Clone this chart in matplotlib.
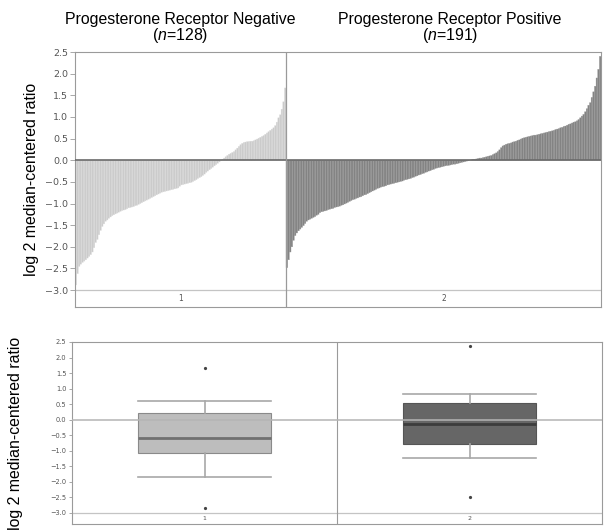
import numpy as np
import matplotlib.pyplot as plt

# sorted per-sample values
pr_negative = [
    -2.88, -2.62, -2.45, -2.40, -2.36, -2.33, -2.30, -2.26, -2.22, -2.18,
    -2.12, -2.02, -1.90, -1.83, -1.72, -1.62, -1.53, -1.47, -1.41, -1.38,
    -1.34, -1.31, -1.28, -1.26, -1.24, -1.22, -1.20, -1.18, -1.16, -1.15,
    -1.14, -1.12, -1.10, -1.09, -1.08, -1.07, -1.05, -1.04, -1.02, -1.00,
    -0.98, -0.96, -0.94, -0.92, -0.90, -0.88, -0.86, -0.84, -0.82, -0.80,
    -0.78, -0.76, -0.74, -0.73, -0.72, -0.71, -0.70, -0.69, -0.68, -0.67,
    -0.66, -0.65, -0.64, -0.60, -0.57, -0.56, -0.55, -0.54, -0.53, -0.52,
    -0.51, -0.49, -0.47, -0.45, -0.42, -0.40, -0.38, -0.35, -0.32, -0.28,
    -0.25, -0.22, -0.19, -0.16, -0.13, -0.10, -0.07, -0.04, -0.01, 0.02,
    0.05, 0.08, 0.11, 0.14, 0.16, 0.18, 0.20, 0.24, 0.28, 0.32,
    0.36, 0.39, 0.41, 0.42, 0.43, 0.43, 0.44, 0.44, 0.45, 0.47,
    0.49, 0.51, 0.53, 0.55, 0.57, 0.60, 0.63, 0.66, 0.69, 0.72,
    0.75, 0.80, 0.88, 0.98, 1.05, 1.18, 1.35, 1.67,
]
pr_positive = [
    -2.48, -2.30, -2.12, -2.00, -1.85, -1.74, -1.68, -1.63, -1.59, -1.55,
    -1.51, -1.46, -1.41, -1.38, -1.36, -1.34, -1.32, -1.30, -1.27, -1.25,
    -1.21, -1.19, -1.18, -1.17, -1.16, -1.14, -1.13, -1.12, -1.11, -1.09,
    -1.08, -1.07, -1.06, -1.04, -1.03, -1.01, -0.99, -0.97, -0.95, -0.93,
    -0.91, -0.90, -0.88, -0.87, -0.85, -0.84, -0.82, -0.80, -0.79, -0.77,
    -0.75, -0.73, -0.71, -0.69, -0.67, -0.65, -0.64, -0.62, -0.61, -0.60,
    -0.59, -0.57, -0.56, -0.55, -0.54, -0.53, -0.52, -0.51, -0.50, -0.49,
    -0.48, -0.46, -0.45, -0.44, -0.43, -0.42, -0.40, -0.39, -0.37, -0.36,
    -0.34, -0.33, -0.31, -0.30, -0.28, -0.27, -0.25, -0.24, -0.22, -0.21,
    -0.19, -0.18, -0.17, -0.16, -0.15, -0.14, -0.13, -0.12, -0.12, -0.11,
    -0.10, -0.09, -0.09, -0.08, -0.07, -0.06, -0.05, -0.04, -0.03, -0.02,
    -0.01, 0.00, 0.01, 0.02, 0.02, 0.03, 0.04, 0.05, 0.05, 0.06,
    0.07, 0.08, 0.09, 0.10, 0.11, 0.13, 0.15, 0.17, 0.20, 0.24,
    0.29, 0.33, 0.35, 0.37, 0.38, 0.39, 0.40, 0.42, 0.43, 0.44,
    0.46, 0.47, 0.49, 0.51, 0.52, 0.53, 0.54, 0.55, 0.56, 0.57,
    0.58, 0.58, 0.59, 0.60, 0.61, 0.62, 0.63, 0.64, 0.65, 0.66,
    0.67, 0.68, 0.69, 0.71, 0.72, 0.73, 0.75, 0.76, 0.78, 0.79,
    0.81, 0.83, 0.84, 0.86, 0.88, 0.89, 0.91, 0.94, 0.98, 1.02,
    1.06, 1.12, 1.19, 1.27, 1.33, 1.45, 1.58, 1.71, 1.90, 2.10,
    2.40,
]

categories = ["1", "2"]
group_titles = ["Progesterone Receptor Negative", "Progesterone Receptor Positive"]
group_n = [128, 191]

# box plot summary (10th/90th whiskers, min/max dots)
box_med = [-0.58, -0.14]
box_q1 = [-1.09, -0.80]
box_q3 = [0.20, 0.54]
box_whislo = [-1.84, -1.25]
box_whishi = [0.60, 0.84]
box_fliers = [[-2.86, 1.67], [-2.48, 2.37]]

y_ticks = [2.5, 2.0, 1.5, 1.0, 0.5, 0.0, -0.5, -1.0, -1.5, -2.0, -2.5, -3.0]

bar_colors = ["#cbcbcb", "#838383"]
bar_edges = ["#dcdcdc", "#9a9a9a"]
box_faces = ["#bdbdbd", "#666666"]
box_medians = ["#707070", "#3c3c3c"]
frame_col = "#9a9a9a"

plt.rcParams["font.family"] = ["Liberation Sans", "DejaVu Sans"]
plt.rcParams["mathtext.fontset"] = "custom"
plt.rcParams["mathtext.it"] = "Liberation Sans:italic"
plt.rcParams["mathtext.rm"] = "Liberation Sans"

fig = plt.figure(figsize=(6.04, 5.30), dpi=100)
ax_top = fig.add_axes([75 / 604, 1 - 307 / 530, 526 / 604, 255 / 530])
ax_box = fig.add_axes([72 / 604, 1 - 524 / 530, 530 / 604, 182 / 530])


def style_axes(ax, tick_size, tick_len):
    for sp in ax.spines.values():
        sp.set_color(frame_col)
        sp.set_linewidth(0.8)
    ax.set_yticks(y_ticks)
    ax.set_yticklabels([f"{t:.1f}".replace("-", "\u2212") for t in y_ticks],
                       family="DejaVu Sans", fontsize=tick_size, color="#555555")
    ax.tick_params(axis="y", length=tick_len, width=0.6, color=frame_col, pad=1.5)
    ax.set_xticks([])
    ax.axhline(-3.0, color="#c4c4c4", lw=0.9, zorder=1)


# waterfall panel
groups = [pr_negative, pr_positive]
start = 0
centers = []
for vals, col, ec in zip(groups, bar_colors, bar_edges):
    x = np.arange(start, start + len(vals))
    bars = ax_top.bar(x, vals, width=1.0, color=col, edgecolor=ec,
                      linewidth=0.25, zorder=2)
    for b in bars:
        b.set_snap(False)
    centers.append(start + (len(vals) - 1) / 2)
    start += len(vals)
ax_top.set_xlim(-0.5, start - 0.5)
ax_top.set_ylim(-3.39, 2.5)
style_axes(ax_top, 6.8, 3.5)
ax_top.axhline(0, color="#6a6a6a", lw=1.2, zorder=3)
ax_top.axvline(len(pr_negative) - 0.5, color=frame_col, lw=0.9, zorder=3)
for c, lab in zip(centers, categories):
    ax_top.text(c, -3.2, lab, ha="center", va="center", fontsize=5.5,
                family="DejaVu Sans", color="#555555")
ax_top.set_ylabel("log 2 median-centered ratio", fontsize=11.4)
ax_top.yaxis.set_label_coords(-0.068, 0.5)

# box panel
stats = []
for i in range(len(categories)):
    stats.append(dict(med=box_med[i], q1=box_q1[i], q3=box_q3[i],
                      whislo=box_whislo[i], whishi=box_whishi[i],
                      fliers=box_fliers[i]))
bp = ax_box.bxp(stats, positions=[1, 2], widths=0.5, capwidths=0.5,
                patch_artist=True, manage_ticks=False,
                flierprops=dict(marker="o", markersize=1.3, markerfacecolor="#444444",
                                markeredgecolor="#444444", linestyle="none"),
                whiskerprops=dict(color="#a8a8a8", lw=1.2),
                capprops=dict(color="#a8a8a8", lw=1.2))
for i, patch in enumerate(bp["boxes"]):
    patch.set_facecolor(box_faces[i])
    patch.set_edgecolor("#8a8a8a" if i == 0 else "#555555")
    patch.set_linewidth(0.8)
    bp["medians"][i].set_color(box_medians[i])
    bp["medians"][i].set_linewidth(2.0)
ax_box.set_xlim(0.5, 2.5)
ax_box.set_ylim(-3.36, 2.5)
style_axes(ax_box, 4.8, 2.5)
ax_box.axhline(0, color="#b4b4b4", lw=1.3, alpha=0.85, zorder=4)
ax_box.axvline(1.5, color=frame_col, lw=0.8, zorder=1)
for i, lab in enumerate(categories):
    ax_box.text(i + 1, -3.19, lab, ha="center", va="center", fontsize=4.5,
                family="DejaVu Sans", color="#555555")
ax_box.set_ylabel("log 2 median-centered ratio", fontsize=11.4)
ax_box.yaxis.set_label_coords(-0.092, 0.5)

# group headers
for xc, title, n in zip([180, 450], group_titles, group_n):
    fig.text(xc / 604, 1 - 12 / 530, f"{title}\n($n$={n})", ha="center", va="top",
             fontsize=11.4, linespacing=0.95, multialignment="center")

fig.savefig("out.png", dpi=100)
